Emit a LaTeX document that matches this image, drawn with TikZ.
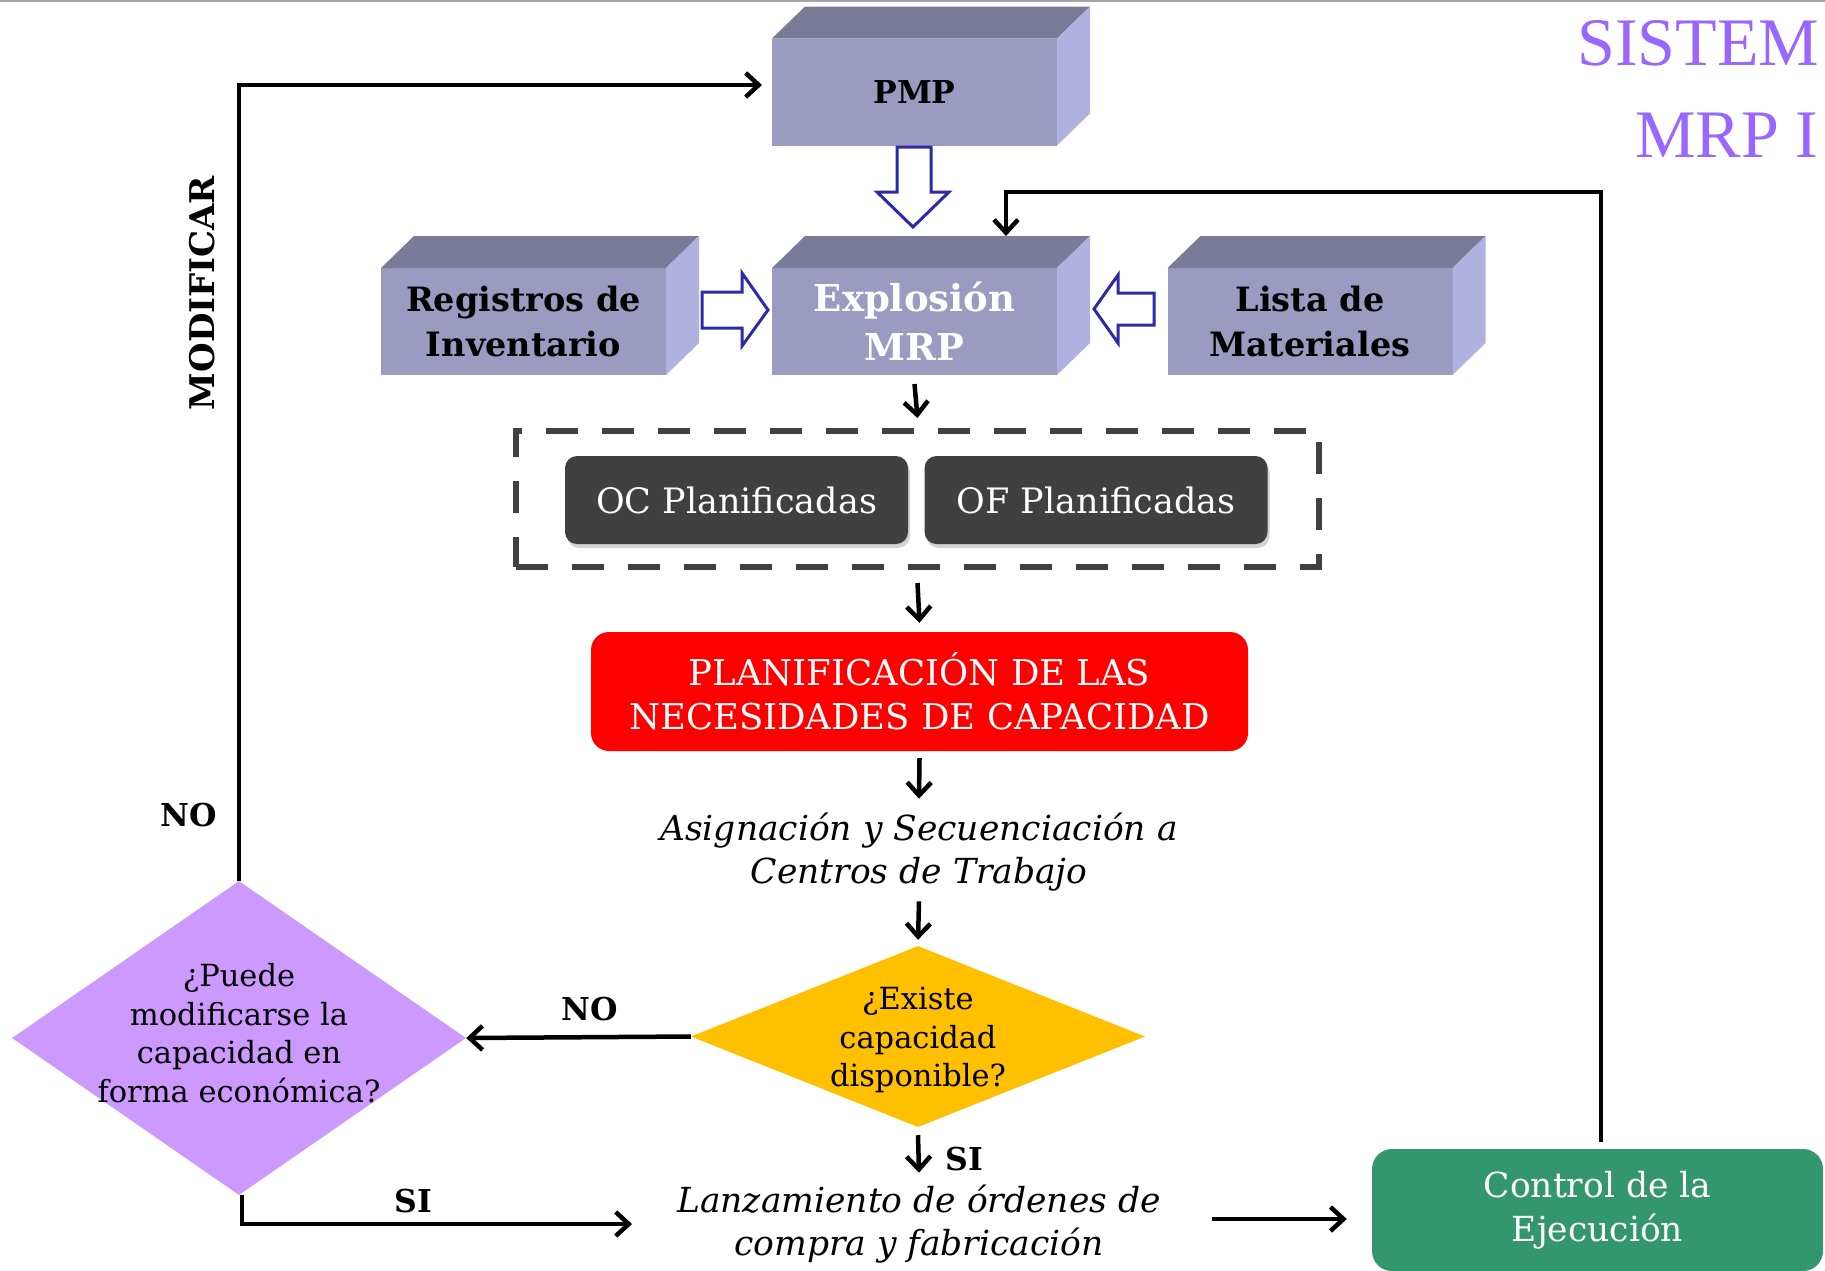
\documentclass[tikz,border=0pt]{standalone}
\usepackage{fontspec}
\setmainfont{DejaVu Serif}
\newfontfamily\titlefont{Liberation Serif}
\usetikzlibrary{arrows.meta,shapes.geometric,shadows}
\definecolor{cubefront}{RGB}{155,155,194}
\definecolor{cubetop}{RGB}{122,122,153}
\definecolor{cubeside}{RGB}{177,177,224}
\definecolor{hollowblue}{RGB}{43,43,168}
\definecolor{darkbox}{RGB}{64,64,64}
\definecolor{yellowd}{RGB}{255,192,0}
\definecolor{purpled}{RGB}{204,153,255}
\definecolor{greenbox}{RGB}{52,150,110}
\definecolor{titlepurple}{RGB}{153,102,255}
\newcommand\cubefaces[1]{%
  \fill[cubetop] (#1.north west) -- ++(33,-32) -- ([shift={(33,-32)}]#1.north east) -- (#1.north east) -- cycle;
  \fill[cubeside] (#1.north east) -- ++(33,-32) -- ([shift={(33,-32)}]#1.south east) -- (#1.south east) -- cycle;}
\begin{document}
\begin{tikzpicture}[x=1pt,y=-1pt,
  cube/.style={rectangle, fill=cubefront, inner sep=0pt, outer sep=0pt,
    minimum width=285pt, minimum height=107pt, align=center,
    font=\bfseries\fontsize{33.5}{45}\selectfont},
  hollow/.style={fill=white, draw=hollowblue, line width=3pt, line join=miter},
  arr/.style={line width=4.5pt, -{Straight Barb[length=13pt,width=24pt]}},
  darkrect/.style={rectangle, rounded corners=12pt, fill=darkbox, text=white,
    minimum width=343pt, minimum height=88pt, inner sep=0pt,
    font=\fontsize{35}{40}\selectfont,
    drop shadow={shadow xshift=2pt, shadow yshift=-4pt, opacity=0.35}},
  lbl/.style={font=\bfseries\fontsize{31.5}{35}\selectfont, inner sep=0pt},
  itext/.style={align=center, font=\itshape\fontsize{34.5}{43}\selectfont, inner sep=0pt},
  dtext/.style={align=center, font=\fontsize{30.5}{38.5}\selectfont, inner sep=0pt},
  titletext/.style={anchor=base west, text=titlepurple, inner sep=0pt,
    font=\titlefont\fontsize{68}{80}\selectfont}
]
\useasboundingbox (0,0) rectangle (1825,1270);
\draw[gray!70, line width=2pt] (0,1) -- (1825,1);

% title
\node[titletext] (t1) at (1577,65) {SISTEM};
\node[titletext] (t2) at (1635,157) {MRP I};

% cubes
\node[cube, font=\bfseries\fontsize{31.5}{40}\selectfont] (pmp) at (914.5,92) {PMP};
\cubefaces{pmp}
\node[cube, text=white, font=\bfseries\fontsize{37}{49}\selectfont] (expl) at (914.5,321.5) {Explosión\\MRP};
\cubefaces{expl}
\node[cube] (reg) at (523.5,321.5) {Registros de\\Inventario};
\cubefaces{reg}
\node[cube] (lista) at (1310,321.5) {Lista de\\Materiales};
\cubefaces{lista}

% hollow arrows
\draw[hollow] (897,147) -- (931,147) -- (931,192) -- (949,192) -- (913,227) -- (877,192) -- (897,192) -- cycle;
\draw[hollow] (702,292) -- (742,292) -- (742,273) -- (768,310) -- (742,346) -- (742,328) -- (702,328) -- cycle;
\draw[hollow] (1154,293) -- (1118,293) -- (1118,275) -- (1094,309) -- (1118,343) -- (1118,325) -- (1154,325) -- cycle;

% dashed group
\node[draw=darkbox, line width=6pt, dash pattern=on 32pt off 24pt,
  minimum width=803pt, minimum height=136pt, inner sep=0pt] (grp) at (917.5,499) {};
\node[darkrect] (oc) at (736.5,500) {OC Planificadas};
\node[darkrect] (of) at (1096,500) {OF Planificadas};

% red box
\node[rectangle, rounded corners=18pt, fill=red, text=white, align=center,
  minimum width=657pt, minimum height=119pt, inner sep=0pt,
  font=\fontsize{35.5}{44}\selectfont] (plan) at (919.5,691.5)
  {PLANIFICACIÓN DE LAS\\NECESIDADES DE CAPACIDAD};

\node[itext] (asig) at (919,852) {Asignación y Secuenciación a\\Centros de Trabajo};

% diamonds
\node[diamond, fill=yellowd, minimum width=454pt, minimum height=181pt, inner sep=0pt] (exist) at (918,1036.5) {};
\node[dtext] (existt) at (918,1040) {¿Existe\\capacidad\\disponible?};
\node[diamond, fill=purpled, minimum width=454pt, minimum height=314pt, inner sep=0pt] (puede) at (239,1038) {};
\node[dtext] (puedet) at (239,1033) {¿Puede\\modificarse la\\capacidad en\\forma económica?};

\node[itext] (lanz) at (919,1224) {Lanzamiento de órdenes de\\compra y fabricación};

\node[rectangle, rounded corners=20pt, fill=greenbox, text=white, align=center,
  minimum width=451pt, minimum height=122pt, inner sep=0pt,
  font=\fontsize{34.5}{44}\selectfont] (ctrl) at (1597.5,1210) {Control de la\\Ejecución};

% vertical arrows
\draw[arr] ([yshift=-9pt]expl.south) -- ([yshift=10pt]grp.north);
\draw[arr] ([yshift=-13pt]grp.south) -- ([yshift=9pt]plan.north);
\draw[arr] ([yshift=-7pt]plan.south) -- ([yshift=14pt]asig.north);
\draw[arr] ([yshift=-10pt]asig.south) -- ([yshift=6pt]exist.north);
\draw[arr] ([yshift=-8pt]exist.south) -- ([yshift=12pt]lanz.north);
\coordinate (c5) at (1212,1219);
\draw[arr] (c5) -- ([xshift=-25pt]ctrl.west |- c5);

% decision arrows
\draw[arr] (exist.west) -- (puede.east);
\coordinate (c1) at (239,85);
\draw[arr] (puede.north) -- (c1) -- ([xshift=-10pt]pmp.west |- c1);
\coordinate (c2) at (242,1224);
\draw[arr] ([xshift=3pt]puede.south) -- (c2) -- (632,1224);
\coordinate (c3) at (1601,192);
\coordinate (c4) at (1006,192);
\draw[arr] ([xshift=3.5pt,yshift=7pt]ctrl.north) -- (c3) -- (c4) -- (1006,236);

% labels
\node[lbl] (no1) at (189,815) {NO};
\node[lbl] (no2) at (590,1009) {NO};
\node[lbl] (si1) at (413,1201) {SI};
\node[lbl] (si2) at (964,1159) {SI};
\node[lbl, rotate=90, font=\bfseries\fontsize{34}{38}\selectfont] (mod) at (202,293) {MODIFICAR};
\end{tikzpicture}
\end{document}
